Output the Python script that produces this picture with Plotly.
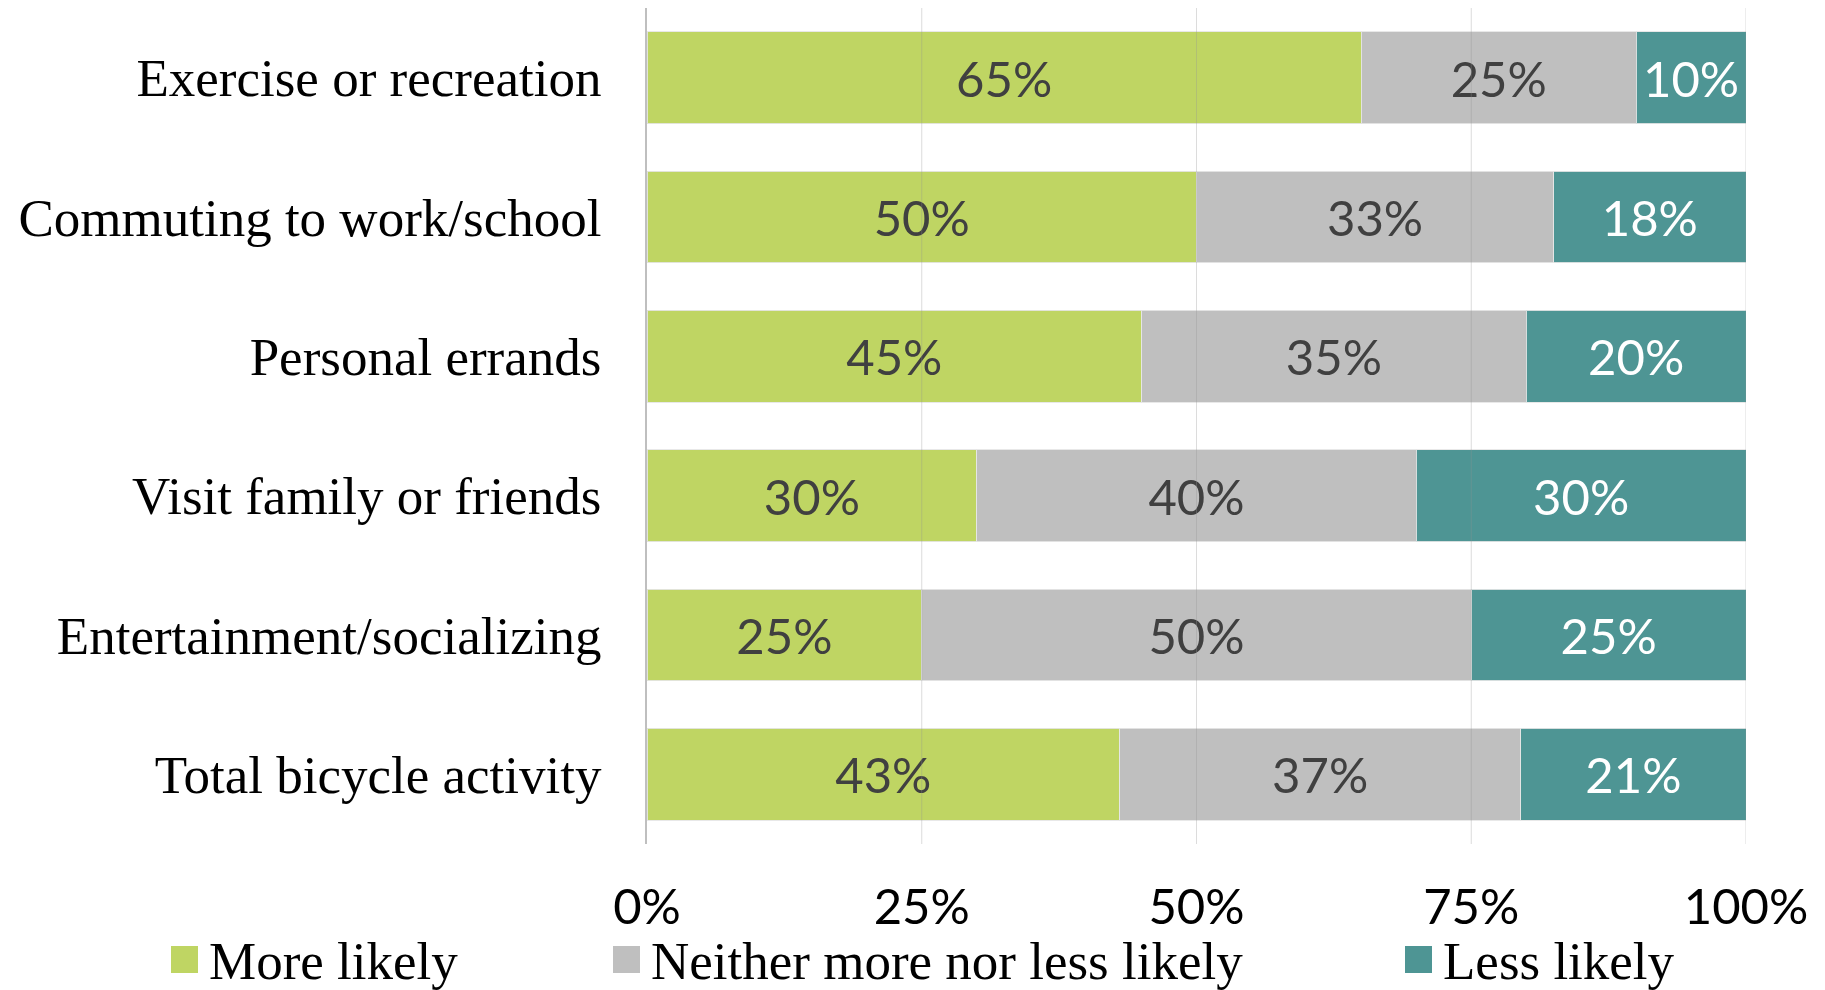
import plotly.graph_objects as go

# Survey shares (%) by trip purpose
categories = [
    "Exercise or recreation",
    "Commuting to work/school",
    "Personal errands",
    "Visit family or friends",
    "Entertainment/socializing",
    "Total bicycle activity",
]
more_likely = [65, 50, 45, 30, 25, 43]
neither = [25, 32.5, 35, 40, 50, 36.5]
less_likely = [10, 17.5, 20, 30, 25, 20.5]

series_names = ["More likely", "Neither more nor less likely", "Less likely"]
series_values = [more_likely, neither, less_likely]
series_colors = ["#BFD563", "#BFBFBF", "#4E9594"]
label_colors = ["#404040", "#404040", "#FFFFFF"]

x_ticks = [0, 25, 50, 75, 100]
x_tick_text = ["0%", "25%", "50%", "75%", "100%"]

W, H = 1825, 990
ML, MR, MT, MB = 647, 79, 8, 146
PW, PH = W - ML - MR, H - MT - MB

SERIF = "Liberation Serif, Times New Roman, serif"
SANS = "Lato, Liberation Sans, Arial, sans-serif"


def paper_x(px):
    return (px - ML) / PW


def paper_y(py):
    return (H - MB - py) / PH


fig = go.Figure()
for name, vals, col, tcol in zip(series_names, series_values, series_colors, label_colors):
    fig.add_trace(go.Bar(
        y=categories,
        x=vals,
        name=name,
        orientation="h",
        marker=dict(color=col, line=dict(color="rgba(230,230,230,0.9)", width=1)),
        texttemplate="%{x:.0f}%",
        textposition="inside",
        insidetextanchor="middle",
        textangle=0,
        constraintext="none",
        textfont=dict(family=SANS, size=49, color=tcol),
        showlegend=False,
    ))

# vertical gridlines drawn over the bars
shapes = []
for t in x_ticks[1:]:
    shapes.append(dict(
        type="line", xref="x", yref="paper", x0=t, x1=t, y0=0, y1=1,
        line=dict(color="rgba(150,150,150,0.33)", width=1), layer="above",
    ))

# legend: colour squares with serif labels
legend_left = [171, 613, 1405]
sq = 27
sq_top = 946
annotations = []
for name, col, lx in zip(series_names, series_colors, legend_left):
    shapes.append(dict(
        type="rect", xref="paper", yref="paper",
        x0=paper_x(lx), x1=paper_x(lx + sq),
        y0=paper_y(sq_top + sq), y1=paper_y(sq_top),
        fillcolor=col, line=dict(width=0),
    ))
    annotations.append(dict(
        xref="paper", yref="paper", x=paper_x(lx + sq + 9), y=paper_y(sq_top + sq / 2 + 1),
        xanchor="left", yanchor="middle", showarrow=False,
        text=name, font=dict(family=SERIF, size=53, color="#000000"),
    ))

fig.update_layout(
    barmode="stack",
    bargap=0.34,
    width=W, height=H,
    margin=dict(l=ML, r=MR, t=MT, b=MB, autoexpand=False),
    paper_bgcolor="white",
    plot_bgcolor="white",
    shapes=shapes,
    annotations=annotations,
    xaxis=dict(
        range=[0, 100],
        tickvals=x_ticks,
        ticktext=x_tick_text,
        showgrid=False,
        zeroline=False,
        showline=False,
        ticks="",
        ticklabelstandoff=30,
        tickfont=dict(family=SANS, size=49, color="#000000"),
        fixedrange=True,
    ),
    yaxis=dict(
        categoryorder="array",
        categoryarray=categories,
        range=[5.5, -0.5],
        showgrid=False,
        zeroline=False,
        showline=True,
        linecolor="#BFBFBF",
        linewidth=2,
        ticks="",
        ticklabelstandoff=33,
        tickfont=dict(family=SERIF, size=53, color="#000000"),
        fixedrange=True,
    ),
)

fig.write_html("out.html", config={"displayModeBar": False})
